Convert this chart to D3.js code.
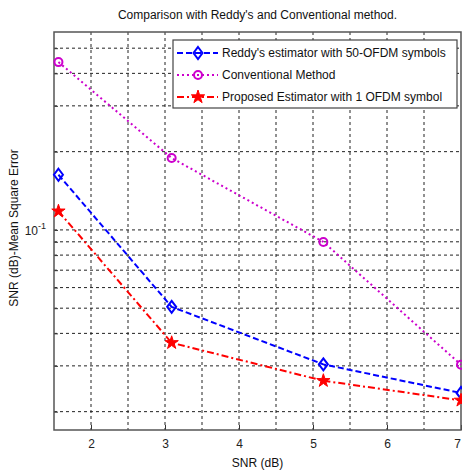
<!DOCTYPE html>
<meta charset="utf-8">
<style type="text/css">
	body { margin: 0; background: #fff; }
	svg { font-family: "Liberation Sans", Arial, sans-serif; }
	.grid line { stroke: #222; stroke-width: 1; stroke-dasharray: 3,3; }
	.frame { fill: none; stroke: #555; stroke-width: 1.5; }
	.tick-label { font-size: 12px; fill: #222; }
	.legend-text { font-size: 12px; fill: #111; }
</style>
<body></body>
<script src="https://d3js.org/d3.v7.min.js"></script>
<script>

	var snr = [1.56, 3.09, 5.14, 7.0];
	var reddy = [0.163, 0.0506, 0.0304, 0.0236];
	var conventional = [0.442, 0.189, 0.0899, 0.0303];
	var proposed = [0.118, 0.0368, 0.0263, 0.0221];

	var xTicks = [2, 3, 4, 5, 6, 7];
	var xGrid = [2, 2.5, 3, 3.5, 4, 4.5, 5, 5.5, 6, 6.5];
	var yGrid = [0.02, 0.03, 0.04, 0.05, 0.06, 0.07, 0.08, 0.09, 0.1, 0.2, 0.3, 0.4, 0.5];
	var seriesNames = ["Reddy's estimator with 50-OFDM symbols", "Conventional Method", "Proposed Estimator with 1 OFDM symbol"];

	var margin = {top: 32, right: 1, bottom: 43, left: 54};
	var W = 462, H = 473;
	var width = W - margin.left - margin.right;
	var height = H - margin.top - margin.bottom;

	var svg = d3.select("body").append("svg")
		.attr("width", W)
		.attr("height", H);

	var g = svg.append("g")
		.attr("transform", "translate(" + margin.left + "," + margin.top + ")");

	var xScale = d3.scaleLinear().domain([1.5, 7]).range([0, width]);
	var yScale = d3.scaleLog().domain([0.0170, 0.577]).range([height, 0]);

	// grid
	var grid = g.append("g").attr("class", "grid");
	grid.selectAll(".gx").data(xGrid).enter().append("line")
		.attr("x1", function(d) { return xScale(d); })
		.attr("x2", function(d) { return xScale(d); })
		.attr("y1", 0).attr("y2", height);
	grid.selectAll(".gy").data(yGrid).enter().append("line")
		.attr("y1", function(d) { return yScale(d); })
		.attr("y2", function(d) { return yScale(d); })
		.attr("x1", 0).attr("x2", width);

	// axes (ticks inside, like matlab)
	var xAxis = d3.axisBottom(xScale).tickValues(xTicks).tickSize(-5).tickPadding(9).tickFormat(d3.format("d"));
	var xa = g.append("g").attr("transform", "translate(0," + height + ")").call(xAxis);
	xa.select(".domain").remove();
	xa.selectAll("line").attr("stroke", "#333");
	xa.selectAll("text").attr("class", "tick-label").attr("font-family", null).attr("font-size", null);
	// last label sits on the right edge, nudge it in
	xa.selectAll("text").filter(function(d) { return d == 7; }).attr("dx", -4);

	var yAxis = d3.axisLeft(yScale).tickValues(yGrid).tickSize(-4).tickFormat("");
	var ya = g.append("g").call(yAxis);
	ya.select(".domain").remove();
	ya.selectAll("line").attr("stroke", "#333");

	// 10^-1 label
	var lab = g.append("text")
		.attr("class", "tick-label")
		.attr("x", -8)
		.attr("y", yScale(0.1) + 5)
		.attr("text-anchor", "end");
	lab.append("tspan").text("10");
	lab.append("tspan").attr("dy", -6).attr("font-size", "9px").text("-1");

	g.append("rect").attr("class", "frame")
		.attr("width", width).attr("height", height);

	// lines
	var line = d3.line()
		.x(function(d) { return xScale(d[0]); })
		.y(function(d) { return yScale(d[1]); });

	var series = [
		{name: seriesNames[0], values: reddy, color: "#0000ff", dash: "6,3", marker: "diamond"},
		{name: seriesNames[1], values: conventional, color: "#cc00cc", dash: "2,3", marker: "circle"},
		{name: seriesNames[2], values: proposed, color: "#ff0000", dash: "7,3,2,3", marker: "star"}
	];

	function drawMarker(sel, s, x, y) {
		if (s.marker == "diamond") {
			sel.append("path")
				.attr("d", "M" + x + "," + (y - 6) + "L" + (x + 4.5) + "," + y + "L" + x + "," + (y + 6) + "L" + (x - 4.5) + "," + y + "Z")
				.attr("fill", "none").attr("stroke", s.color).attr("stroke-width", 2);
		} else if (s.marker == "circle") {
			sel.append("circle").attr("cx", x).attr("cy", y).attr("r", 4)
				.attr("fill", "none").attr("stroke", s.color).attr("stroke-width", 2);
		} else {
			sel.append("path")
				.attr("d", d3.symbol().type(d3.symbolStar).size(55)())
				.attr("transform", "translate(" + x + "," + y + ")")
				.attr("fill", s.color).attr("stroke", s.color).attr("stroke-width", 1);
		}
	}

	series.forEach(function(s) {
		var pts = snr.map(function(x, i) { return [x, s.values[i]]; });
		g.append("path")
			.attr("d", line(pts))
			.attr("fill", "none")
			.attr("stroke", s.color)
			.attr("stroke-width", 2)
			.attr("stroke-dasharray", s.dash);
		pts.forEach(function(p) {
			drawMarker(g, s, xScale(p[0]), yScale(p[1]));
		});
	});

	// legend
	var legend = svg.append("g");
	legend.append("rect")
		.attr("x", 173).attr("y", 40)
		.attr("width", 284).attr("height", 68)
		.attr("fill", "#fff").attr("stroke", "#444").attr("stroke-width", 1.2);

	series.forEach(function(s, i) {
		var ly = 53 + i * 22;
		legend.append("line")
			.attr("x1", 177).attr("x2", 218)
			.attr("y1", ly).attr("y2", ly)
			.attr("stroke", s.color).attr("stroke-width", 2)
			.attr("stroke-dasharray", s.dash);
		drawMarker(legend, s, 198, ly);
		legend.append("text")
			.attr("class", "legend-text")
			.attr("x", 222).attr("y", ly + 4)
			.text(s.name);
	});

	// titles
	svg.append("text")
		.attr("x", margin.left + width / 2).attr("y", 19)
		.attr("text-anchor", "middle")
		.attr("font-size", "12px")
		.attr("fill", "#111")
		.text("Comparison with Reddy's and Conventional method.");

	svg.append("text")
		.attr("x", margin.left + width / 2).attr("y", 467)
		.attr("text-anchor", "middle")
		.attr("font-size", "12px")
		.attr("fill", "#111")
		.text("SNR (dB)");

	svg.append("text")
		.attr("transform", "translate(18," + (margin.top + 196) + ") rotate(-90)")
		.attr("text-anchor", "middle")
		.attr("font-size", "12px")
		.attr("fill", "#111")
		.text("SNR (dB)-Mean Square Error");

</script>
